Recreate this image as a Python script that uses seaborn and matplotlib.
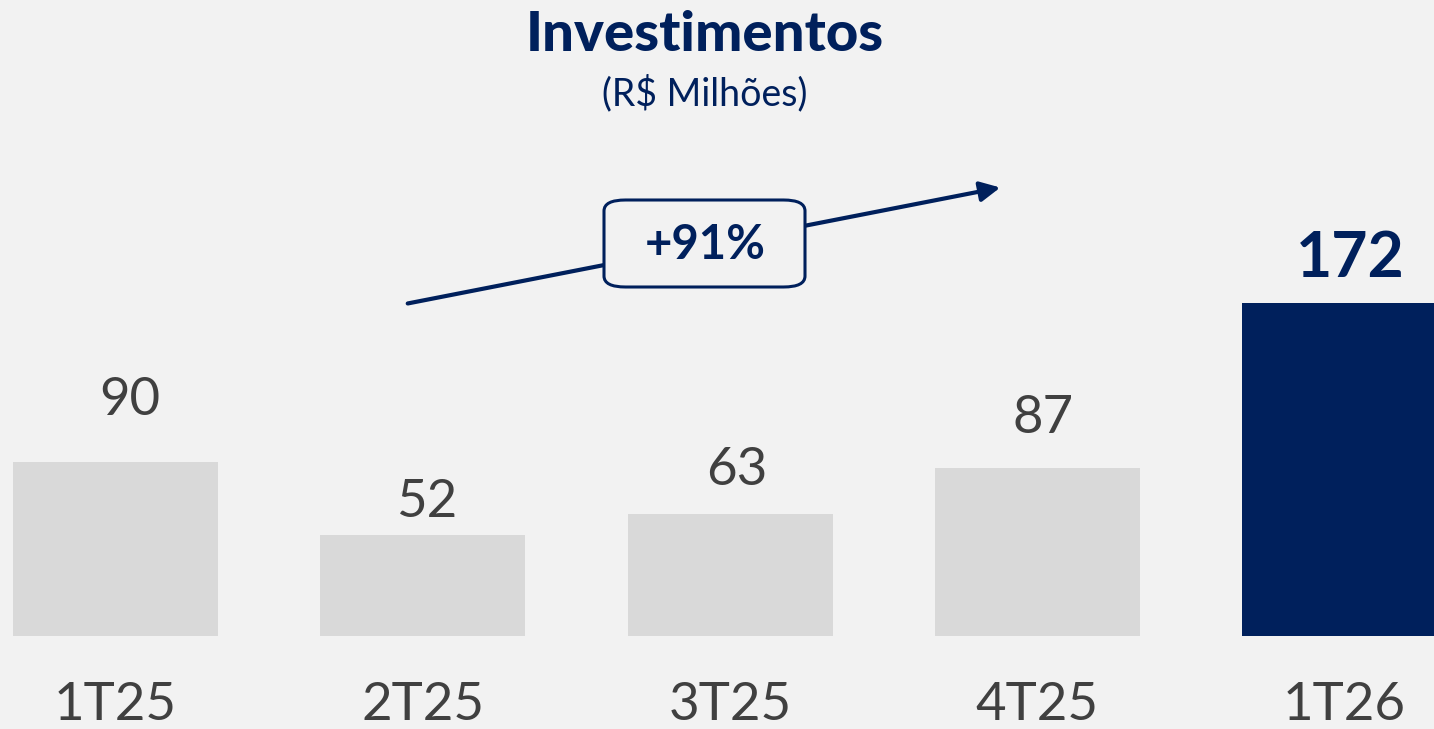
import matplotlib
matplotlib.use("Agg")
import matplotlib.pyplot as plt
import seaborn as sns
from matplotlib.patches import FancyBboxPatch, FancyArrowPatch

# data
quarters = ["1T25", "2T25", "3T25", "4T25", "1T26"]
invest = [90, 52, 63, 87, 172]
bar_colors = ["#d9d9d9", "#d9d9d9", "#d9d9d9", "#d9d9d9", "#00205c"]
growth_label = "+91%"

# label placement (points) relative to bar top centre
label_dx = [10, 3, 5, 4, 4]
label_dy = [34, 13, 21, 25, 19]

bg = "#f2f2f2"
navy = "#00205c"
grey_txt = "#404040"

sns.set_theme(style="white")
plt.rcParams["font.family"] = ["Lato", "DejaVu Sans"]

fig = plt.figure(figsize=(14.34, 7.29), dpi=100, facecolor=bg)
ax = fig.add_axes([0, 93 / 729, 1, 636 / 729])
ax.set_facecolor(bg)

sns.barplot(x=quarters, y=invest, hue=quarters, palette=bar_colors,
            legend=False, width=0.667, saturation=1, linewidth=0, ax=ax)

ax.set_xlim(-0.376, 4.291)
ax.set_ylim(0, 328.7)
for s in ax.spines.values():
    s.set_visible(False)
ax.set_yticks([])
ax.set_xlabel("")
ax.set_ylabel("")
ax.tick_params(axis="x", length=0, pad=33, labelsize=38, labelcolor=grey_txt)

# value labels
for i, v in enumerate(invest):
    last = i == len(invest) - 1
    ax.annotate(str(v), (i, v), xytext=(label_dx[i], label_dy[i]),
                textcoords="offset points", ha="center", va="baseline",
                fontsize=45 if last else 38,
                fontweight="bold" if last else "normal",
                color=navy if last else grey_txt)

# title
fig.text(705 / 1434, 1 - 35 / 729, "Investimentos", ha="center", va="center",
         fontsize=40.5, fontweight="black", color=navy)
fig.text(705 / 1434, 1 - 93 / 729, "(R$ Milhões)", ha="center", va="center",
         fontsize=27, color=navy)

# growth arrow with badge
fig.patches.append(FancyArrowPatch(
    (405 / 1434, 1 - 304 / 729), (1003 / 1434, 1 - 187 / 729),
    transform=fig.transFigure, arrowstyle="-|>,head_length=12,head_width=6",
    mutation_scale=1, lw=3, color=navy, zorder=3))
box = FancyBboxPatch((604 / 1434, 1 - 287 / 729), 201 / 1434, 87 / 729,
                     boxstyle="round,pad=0,rounding_size=0.015",
                     transform=fig.transFigure, facecolor=bg, edgecolor=navy,
                     lw=2.2, zorder=4)
fig.patches.append(box)
fig.text(705 / 1434, 1 - 245 / 729, growth_label, ha="center", va="center",
         fontsize=34, fontweight="bold", color=navy, zorder=5)

plt.savefig("out.png", dpi=100, facecolor=bg)
